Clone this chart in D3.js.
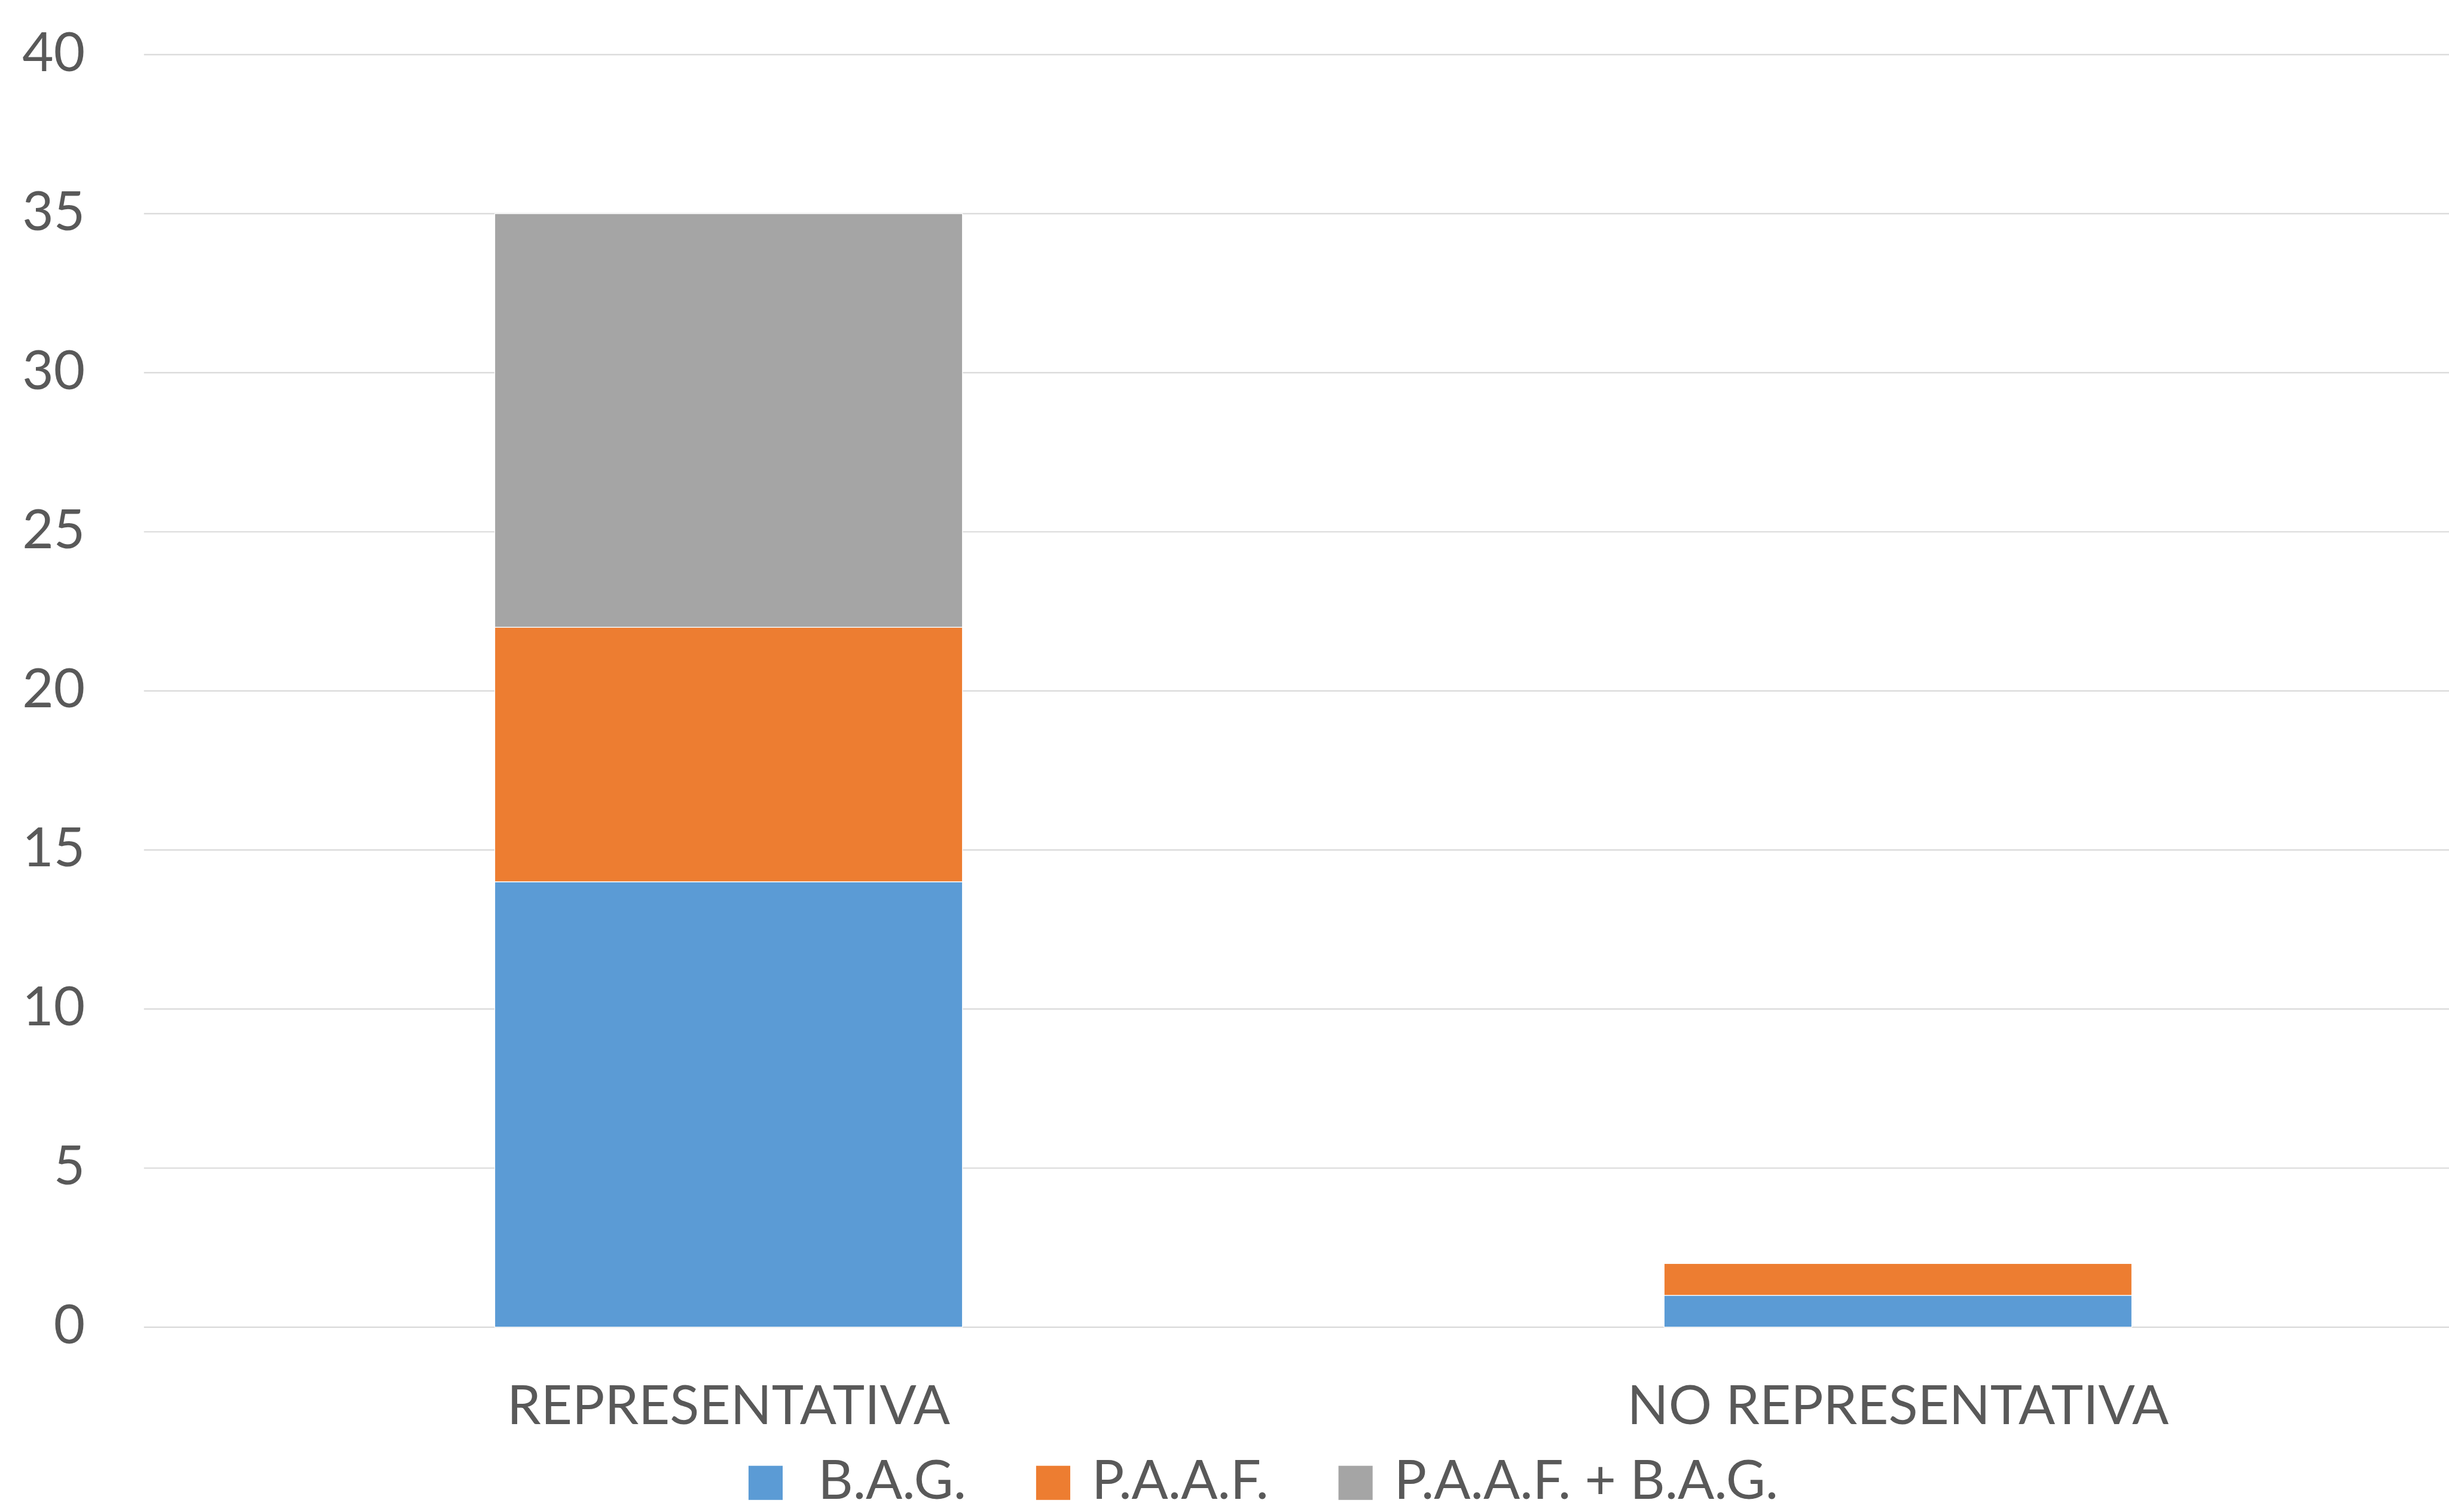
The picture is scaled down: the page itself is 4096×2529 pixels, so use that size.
<!DOCTYPE html>
<html>
<head>
<meta charset="utf-8">
<script src="https://cdn.jsdelivr.net/npm/d3@7/dist/d3.min.js"></script>
<style>
  html, body { margin: 0; padding: 0; background: #ffffff; overflow: hidden; }
  svg { display: block; }
  text { font-family: Lato, "Open Sans", sans-serif; fill: #595959; white-space: pre; }
</style>
</head>
<body>
<svg id="chart"></svg>
<script>
// Stacked counts per category
const categories = ["REPRESENTATIVA", "NO REPRESENTATIVA"];
const seriesNames = [" B.A.G.", "P.A.A.F.", "P.A.A.F. + B.A.G."];
const bagValues = [14, 1];
const paafValues = [8, 1];
const paafBagValues = [13, 0];
const yTicks = [0, 5, 10, 15, 20, 25, 30, 35, 40];
const seriesColors = ["#5B9BD5", "#ED7D31", "#A5A5A5"];

// Drawing space (internal units), scaled to the window by the viewBox
const W = 4662, H = 2879;
const plot = { left: 274, right: 4726, top: 104, bottom: 2527 };
const fontSize = 103;

const svg = d3.select("#chart")
  .attr("width", 4096)
  .attr("height", 2529)
  .attr("viewBox", `0 0 ${W} ${H}`)
  .attr("preserveAspectRatio", "none");

const rows = categories.map((c, i) => ({
  category: c,
  [seriesNames[0]]: bagValues[i],
  [seriesNames[1]]: paafValues[i],
  [seriesNames[2]]: paafBagValues[i]
}));

const stack = d3.stack().keys(seriesNames);
const layers = stack(rows);

const x = d3.scaleBand()
  .domain(categories)
  .range([plot.left, plot.right])
  .paddingInner(0.6)
  .paddingOuter(0.3);

const y = d3.scaleLinear()
  .domain([0, 40])
  .range([plot.bottom, plot.top]);

// Horizontal gridlines
svg.append("g")
  .selectAll("line")
  .data(yTicks)
  .join("line")
  .attr("x1", plot.left)
  .attr("x2", plot.right)
  .attr("y1", d => y(d))
  .attr("y2", d => y(d))
  .attr("stroke", "#D9D9D9")
  .attr("stroke-width", 2.5);

// Stacked bars
svg.append("g")
  .selectAll("g")
  .data(layers)
  .join("g")
  .attr("fill", (d, i) => seriesColors[i])
  .selectAll("rect")
  .data(d => d)
  .join("rect")
  .attr("x", d => x(d.data.category))
  .attr("width", x.bandwidth())
  .attr("y", d => y(d[1]))
  .attr("height", d => y(d[0]) - y(d[1]))
  .attr("stroke", "#ffffff")
  .attr("stroke-width", d => (d[1] - d[0]) > 0 ? 1.5 : 0);

// Y axis labels
const yAxis = svg.append("g")
  .attr("transform", `translate(${plot.left},0)`)
  .call(d3.axisLeft(y).tickValues(yTicks).tickSize(0).tickPadding(112));
yAxis.select(".domain").remove();
yAxis.selectAll("text")
  .attr("dy", 31)
  .attr("font-size", fontSize)
  .attr("font-family", null)
  .attr("fill", "#595959");

// Category labels
const xAxis = svg.append("g")
  .attr("transform", `translate(0,${plot.bottom})`)
  .call(d3.axisBottom(x).tickSize(0));
xAxis.select(".domain").remove();
xAxis.selectAll("text")
  .attr("y", 185)
  .attr("dy", 0)
  .attr("font-size", fontSize)
  .attr("font-family", null)
  .attr("fill", "#595959");

// Legend, centred under the plot
const legend = svg.append("g");
const marker = 65, markerGap = 41, entryGap = 133;
const legendBaseline = 2854;
const entries = seriesNames.map((name, i) => {
  const g = legend.append("g");
  g.append("rect")
    .attr("width", marker)
    .attr("height", marker)
    .attr("y", legendBaseline - 63)
    .attr("fill", seriesColors[i]);
  const t = g.append("text")
    .attr("x", marker + markerGap)
    .attr("y", legendBaseline)
    .attr("font-size", fontSize)
    .text(name);
  return { g, w: marker + markerGap + t.node().getComputedTextLength() };
});
const totalW = d3.sum(entries, e => e.w) + entryGap * (entries.length - 1);
let cx = 2405 - totalW / 2;
entries.forEach(e => {
  e.g.attr("transform", `translate(${cx},0)`);
  cx += e.w + entryGap;
});
</script>
</body>
</html>
